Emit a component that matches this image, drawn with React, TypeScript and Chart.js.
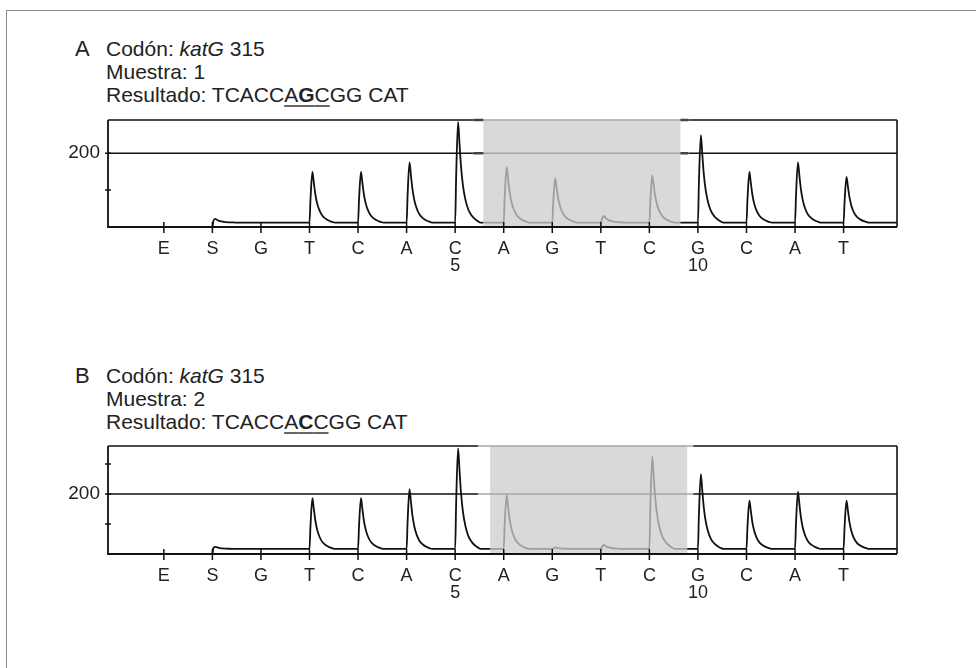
import React, { useEffect, useRef } from "react";
import { Chart, registerables } from "chart.js";
Chart.register(...registerables);

// ---------- data ----------
const dispensations = ["E", "S", "G", "T", "C", "A", "C", "A", "G", "T", "C", "G", "C", "A", "T"];
const positionNumbers: Record<number, string> = { 6: "5", 11: "10" };

const peaksA = [0, 22, 0, 149, 149, 175, 285, 163, 132, 30, 140, 249, 149, 175, 136];
const peaksB = [0, 24, 0, 186, 186, 216, 352, 197, 22, 30, 324, 266, 178, 208, 178];
const baselineA = 12;
const baselineB = 17;

const yMaxA = 290;
const yMaxB = 360;
const yTicksA = [100, 200];
const yTicksB = [100, 200, 300];
const yLabelValue = 200;

const shadeA = [6.58, 10.64];
const shadeB = [6.72, 10.78];
const xRange = [-1.15, 15.1];

// relative shape of one pyrogram peak: [offset after dispensation, fraction of height]
const peakShape: [number, number][] = [
  [0.02, 0.45],
  [0.06, 1],
  [0.09, 0.78],
  [0.12, 0.56],
  [0.16, 0.37],
  [0.21, 0.23],
  [0.27, 0.13],
  [0.34, 0.07],
  [0.42, 0.03],
  [0.48, 0.01],
];

const FONT = "'Liberation Sans', Arial, Helvetica, sans-serif";

function buildTrace(peaks: number[], baseline: number, shade: number[]) {
  const pts: { x: number; y: number }[] = [{ x: xRange[0], y: 0 }];
  peaks.forEach((h, i) => {
    const before = i <= 1 ? 0 : baseline;
    const after = i < 1 ? 0 : baseline;
    pts.push({ x: i, y: before });
    if (h > after) {
      peakShape.forEach(([dx, f]) => pts.push({ x: i + dx, y: after + (h - after) * f }));
    }
    pts.push({ x: i + 0.52, y: after });
  });
  pts.push({ x: xRange[1], y: baseline });
  pts.push({ x: shade[0], y: baseline });
  pts.push({ x: shade[1], y: baseline });
  pts.sort((a, b) => a.x - b.x);
  return pts;
}

function makeFramePlugin(shade: number[], yTicks: number[], panel: string) {
  return {
    id: "frame" + panel,
    beforeDatasetsDraw(chart: any) {
      const { ctx, chartArea } = chart;
      const xs = chart.scales.x;
      const ys = chart.scales.y;
      const L = chartArea.left, R = chartArea.right, T = chartArea.top, B = chartArea.bottom;
      const gL = xs.getPixelForValue(shade[0]);
      const gR = xs.getPixelForValue(shade[1]);
      ctx.save();
      ctx.fillStyle = "#d9d9d9";
      ctx.fillRect(gL, T, gR - gL, B - T - 1);
      const lineL = gL - (panel === "A" ? 10 : 12);
      const lineR = gR + (panel === "A" ? 8 : 6);
      const y200 = ys.getPixelForValue(yLabelValue);
      [T, y200].forEach((yy) => {
        ctx.lineWidth = 1.6;
        ctx.strokeStyle = "#111";
        ctx.beginPath();
        ctx.moveTo(L, yy);
        ctx.lineTo(lineL, yy);
        ctx.moveTo(lineR, yy);
        ctx.lineTo(R, yy);
        ctx.stroke();
        ctx.strokeStyle = "#a6a6a6";
        ctx.beginPath();
        ctx.moveTo(lineL, yy);
        ctx.lineTo(lineR, yy);
        ctx.stroke();
        if (panel === "A") {
          ctx.strokeStyle = "#444";
          ctx.lineWidth = 2.6;
          ctx.beginPath();
          ctx.moveTo(lineL, yy);
          ctx.lineTo(gL, yy);
          ctx.moveTo(gR, yy);
          ctx.lineTo(lineR, yy);
          ctx.stroke();
        }
      });
      ctx.strokeStyle = "#111";
      ctx.lineWidth = 1.6;
      ctx.beginPath();
      ctx.moveTo(R, T);
      ctx.lineTo(R, B);
      ctx.stroke();
      ctx.restore();
    },
    afterDatasetsDraw(chart: any) {
      const { ctx, chartArea } = chart;
      const xs = chart.scales.x;
      const ys = chart.scales.y;
      const L = chartArea.left, R = chartArea.right, T = chartArea.top, B = chartArea.bottom;
      ctx.save();
      ctx.strokeStyle = "#111";
      ctx.lineWidth = 1.8;
      ctx.beginPath();
      ctx.moveTo(L, T);
      ctx.lineTo(L, B);
      ctx.lineTo(R, B);
      ctx.stroke();
      ctx.lineWidth = 1.5;
      ctx.beginPath();
      dispensations.forEach((_, i) => {
        const px = xs.getPixelForValue(i);
        ctx.moveTo(px, B - 5);
        ctx.lineTo(px, B + 6);
      });
      yTicks.forEach((v) => {
        const py = ys.getPixelForValue(v);
        ctx.moveTo(L - 3, py);
        ctx.lineTo(L + 3, py);
      });
      ctx.stroke();
      ctx.restore();
    },
  };
}

type PyroProps = {
  peaks: number[];
  baseline: number;
  yMax: number;
  yTicks: number[];
  shade: number[];
  panel: string;
  top: number;
  height: number;
};

function Pyrogram({ peaks, baseline, yMax, yTicks, shade, panel, top, height }: PyroProps) {
  const ref = useRef<HTMLCanvasElement>(null);
  useEffect(() => {
    if (!ref.current) return;
    const trace = buildTrace(peaks, baseline, shade);
    const chart = new Chart(ref.current, {
      type: "line",
      data: {
        datasets: [
          {
            data: trace,
            borderColor: "#111",
            borderWidth: 1.8,
            pointRadius: 0,
            fill: false,
            cubicInterpolationMode: "monotone",
            segment: {
              borderColor: (c: any) =>
                c.p0.parsed.x >= shade[0] - 1e-6 && c.p1.parsed.x <= shade[1] + 1e-6 ? "#9e9e9e" : "#111",
            },
          } as any,
        ],
      },
      options: {
        responsive: false,
        animation: false,
        devicePixelRatio: 1,
        layout: { padding: { top: 10, right: 13, left: 0, bottom: 0 } },
        plugins: { legend: { display: false }, tooltip: { enabled: false } },
        scales: {
          x: {
            type: "linear",
            min: xRange[0],
            max: xRange[1],
            afterBuildTicks: (axis: any) => {
              axis.ticks = dispensations.map((_, i) => ({ value: i }));
            },
            afterFit: (scale: any) => {
              scale.height = 58;
              scale.paddingLeft = 0;
              scale.paddingRight = 0;
            },
            grid: { display: false, drawTicks: false },
            border: { display: false },
            ticks: {
              autoSkip: false,
              maxRotation: 0,
              padding: 13,
              color: "#222",
              font: { family: FONT, size: 18, lineHeight: 0.95 },
              callback: (_v: any, idx: number) => {
                const n = positionNumbers[idx];
                return n ? [dispensations[idx], n] : dispensations[idx];
              },
            },
          },
          y: {
            type: "linear",
            min: 0,
            max: yMax,
            afterBuildTicks: (axis: any) => {
              axis.ticks = yTicks.map((v) => ({ value: v }));
            },
            afterFit: (scale: any) => {
              scale.width = 68;
              scale.paddingTop = 0;
              scale.paddingBottom = 0;
            },
            grid: { display: false, drawTicks: false },
            border: { display: false },
            ticks: {
              padding: 8,
              color: "#222",
              font: { family: FONT, size: 19 },
              callback: (v: any) => (v === yLabelValue ? String(yLabelValue) : ""),
            },
          },
        },
      },
      plugins: [makeFramePlugin(shade, yTicks, panel)],
    } as any);
    return () => chart.destroy();
  }, []);
  return (
    <canvas
      ref={ref}
      width={870}
      height={height}
      style={{ position: "absolute", left: 40, top, width: 870, height }}
    />
  );
}

function Title({ letter, sample, base, top }: { letter: string; sample: string; base: string; top: number }) {
  const lineH = 23;
  return (
    <div style={{ position: "absolute", left: 0, top, fontFamily: FONT, color: "#222" }}>
      <div style={{ position: "absolute", left: 75, top: 0, fontSize: 22, lineHeight: lineH + "px" }}>{letter}</div>
      <div style={{ position: "absolute", left: 106, top: 0, fontSize: 21, lineHeight: lineH + "px", whiteSpace: "nowrap" }}>
        <div>
          Codón: <i>katG</i> 315
        </div>
        <div>Muestra: {sample}</div>
        <div>
          Resultado: TCACC
          <span
            style={{
              textDecoration: "underline",
              textDecorationColor: "#666",
              textDecorationThickness: "1.5px",
              textUnderlineOffset: "3px",
            }}
          >
            A<b>{base}</b>C
          </span>
          GG CAT
        </div>
      </div>
    </div>
  );
}

export default function App() {
  useEffect(() => {
    document.body.style.margin = "0";
  }, []);
  return (
    <div style={{ position: "relative", width: 976, height: 668, overflow: "hidden", background: "#fff" }}>
      <div
        style={{
          position: "absolute",
          left: 6,
          top: 10,
          width: 1100,
          height: 800,
          borderLeft: "1.5px solid #8a8a8a",
          borderTop: "1.5px solid #8a8a8a",
        }}
      />
      <Title letter="A" sample="1" base="G" top={37} />
      <Pyrogram peaks={peaksA} baseline={baselineA} yMax={yMaxA} yTicks={yTicksA} shade={shadeA} panel="A" top={110} height={175} />
      <Title letter="B" sample="2" base="C" top={364} />
      <Pyrogram peaks={peaksB} baseline={baselineB} yMax={yMaxB} yTicks={yTicksB} shade={shadeB} panel="B" top={436} height={176} />
    </div>
  );
}
